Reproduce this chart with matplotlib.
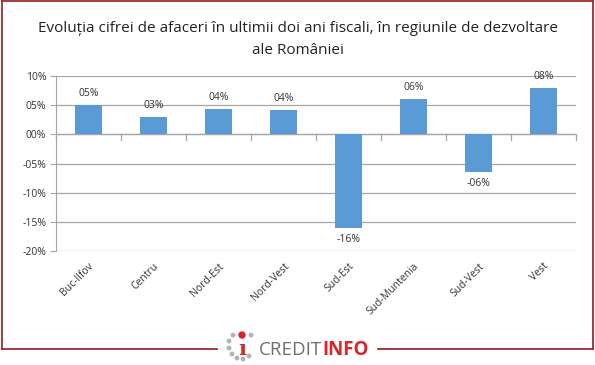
import matplotlib
matplotlib.use("Agg")
import matplotlib.pyplot as plt
from matplotlib.patches import Circle
import numpy as np

categories = ["Buc-Ilfov", "Centru", "Nord-Est", "Nord-Vest", "Sud-Est",
              "Sud-Muntenia", "Sud-Vest", "Vest"]
values = [5.0, 3.0, 4.4, 4.2, -16.0, 6.0, -6.5, 7.9]
value_labels = ["05%", "03%", "04%", "04%", "-16%", "06%", "-06%", "08%"]
yticks = [10, 5, 0, -5, -10, -15, -20]
ytick_labels = ["10%", "05%", "00%", "-05%", "-10%", "-15%", "-20%"]
title = "Evoluția cifrei de afaceri în ultimii doi ani fiscali, în regiunile de dezvoltare\nale României"

plt.rcParams['font.family'] = ['Open Sans', 'DejaVu Sans']

fig = plt.figure(figsize=(5.95, 3.65), dpi=100)
ax = fig.add_axes([0.094, 0.312, 0.874, 0.48])

x = np.arange(len(categories))
ax.bar(x, values, width=0.42, color="#5B9BD5", zorder=3)
ax.set_xlim(-0.5, len(categories) - 0.5)
ax.set_ylim(-20, 10)
ax.set_yticks(yticks)
ax.set_yticklabels(ytick_labels, fontsize=7.5, color="#333333")
ax.yaxis.grid(True, color="#A6A6A6", linewidth=0.9, zorder=0)
ax.tick_params(axis="y", length=4, color="#A6A6A6", pad=3)
for s in ["top", "right", "bottom"]:
    ax.spines[s].set_visible(False)
ax.spines["left"].set_color("#A6A6A6")

ax.axhline(0, color="#A6A6A6", linewidth=0.9, zorder=2)
for b in np.arange(-0.5, len(categories), 1.0):
    ax.plot([b, b], [0, -0.9], color="#A6A6A6", linewidth=0.9, clip_on=False, zorder=2)

ax.set_xticks(x)
ax.set_xticklabels(categories, rotation=45, ha="right", rotation_mode="anchor",
                   fontsize=7.5, color="#333333")
ax.tick_params(axis="x", length=0, pad=7)

for xi, v, t in zip(x, values, value_labels):
    if v >= 0:
        ax.text(xi, v + 1.0, t, ha="center", va="bottom", fontsize=7.5, color="#333333")
    else:
        ax.text(xi, v - 1.0, t, ha="center", va="top", fontsize=7.5, color="#333333")

fig.text(0.5, 0.892, title, ha="center", va="center", fontsize=11,
         color="#222222", linespacing=1.65)

# overlay in pixel coordinates for border and logo
ov = fig.add_axes([0, 0, 1, 1], zorder=10)
ov.set_xlim(0, 595); ov.set_ylim(365, 0); ov.axis("off")
ov.patch.set_alpha(0)
bc = "#9B2D2D"
lw = 1.3
ov.plot([1.5, 1.5], [1, 349], color=bc, lw=lw)
ov.plot([1.5, 592.5], [1, 1], color=bc, lw=lw)
ov.plot([592.5, 592.5], [1, 349], color=bc, lw=lw)
ov.plot([1.5, 217], [349, 349], color=bc, lw=lw)
ov.plot([378, 592.5], [349, 349], color=bc, lw=lw)

red = "#D9262B"
ring = [(233, 335), (229, 341), (229, 348), (232, 354), (237, 358), (243, 359),
        (249, 356), (251, 335)]
for px, py in ring:
    ov.add_patch(Circle((px, py), 1.7, color="#B3B3B3"))
ov.add_patch(Circle((242, 335), 3.0, color=red))
ov.text(242, 349, "ı", ha="center", va="center", fontsize=15, fontweight="bold",
        color=red, family="DejaVu Serif")
ov.text(322, 350, "CREDIT", ha="right", va="center", fontsize=13.5,
        color="#6F6F6F")
ov.text(322, 350, "INFO", ha="left", va="center", fontsize=13.5,
        color=red, fontweight="bold")

fig.savefig("out.png", dpi=100)
